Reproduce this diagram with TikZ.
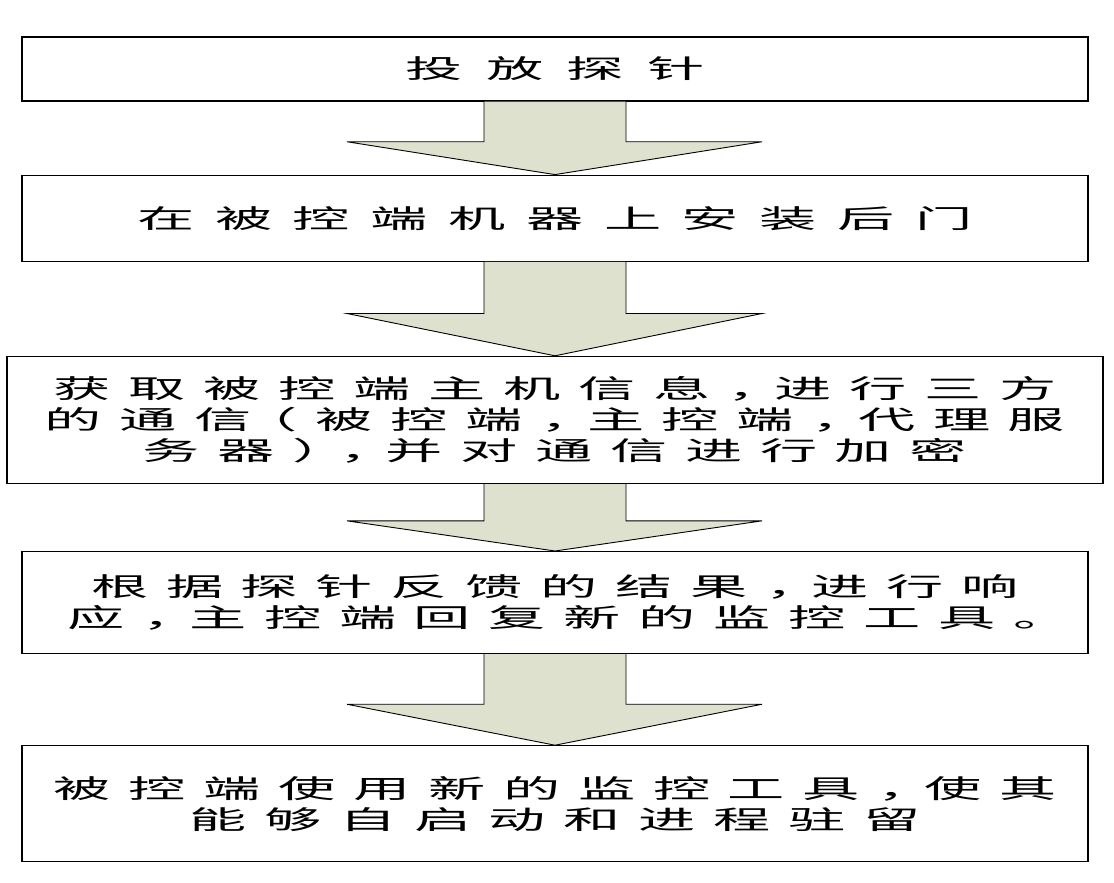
\documentclass[tikz,border=0pt]{standalone}
\usepackage{fontspec}
\usepackage{xcolor}
\usepackage{graphicx}
\usepackage{tikz}
\usetikzlibrary{positioning, calc}

\newfontfamily\cjk[LetterSpace=31, RawFeature=+halt]{Noto Sans CJK SC}
\newcommand{\wide}[1]{\scalebox{2.2}[1]{#1}}
\definecolor{arrowfill}{RGB}{221,225,206}

\newcommand{\bigarrow}[2]{%
    \filldraw [arrowbody] ($(#1.south)+(-71pt,0)$)
        -- ($(#1.south)!0.55!(#2.north)+(-71pt,0)$)
        -- ($(#1.south)!0.55!(#2.north)+(-208pt,0)$)
        -- (#2.north)
        -- ($(#1.south)!0.55!(#2.north)+(207pt,0)$)
        -- ($(#1.south)!0.55!(#2.north)+(71pt,0)$)
        -- ($(#1.south)+(71pt,0)$);
}

\begin{document}
\begin{tikzpicture}[
    stepbox/.style={rectangle, draw, line width=1.2pt, minimum width=1066pt, align=center,
        font=\cjk\fontsize{26pt}{31pt}\selectfont},
    arrowbody/.style={fill=arrowfill, draw=black, line width=0.9pt}
]
    \useasboundingbox (0,0) rectangle (1114pt,-883pt);

    \node (drop) [stepbox, minimum height=64pt] at (555pt,-69pt) {\addfontfeature{LetterSpace=41}\wide{投放探针}};
    \node (backdoor) [stepbox, minimum height=86pt, below=73pt of drop] {\addfontfeature{LetterSpace=36}\wide{在被控端机器上安装后门}};
    \node (comm) [stepbox, minimum height=127pt, minimum width=1096pt, below=94pt of backdoor]
        {\wide{获取被控端主机信息，进行三方}\\\wide{的通信（被控端，主控端，代理服}\\\wide{务器），并对通信进行加密}};
    \node (respond) [stepbox, minimum height=102pt, below=67pt of comm]
        {\wide{根据探针反馈的结果，进行响}\\\wide{应，主控端回复新的监控工具。}};
    \node (persist) [stepbox, minimum height=116pt, below=91pt of respond]
        {\wide{被控端使用新的监控工具，使其}\\\wide{能够自启动和进程驻留}};

    \bigarrow{drop}{backdoor}
    \bigarrow{backdoor}{comm}
    \bigarrow{comm}{respond}
    \bigarrow{respond}{persist}
\end{tikzpicture}
\end{document}
